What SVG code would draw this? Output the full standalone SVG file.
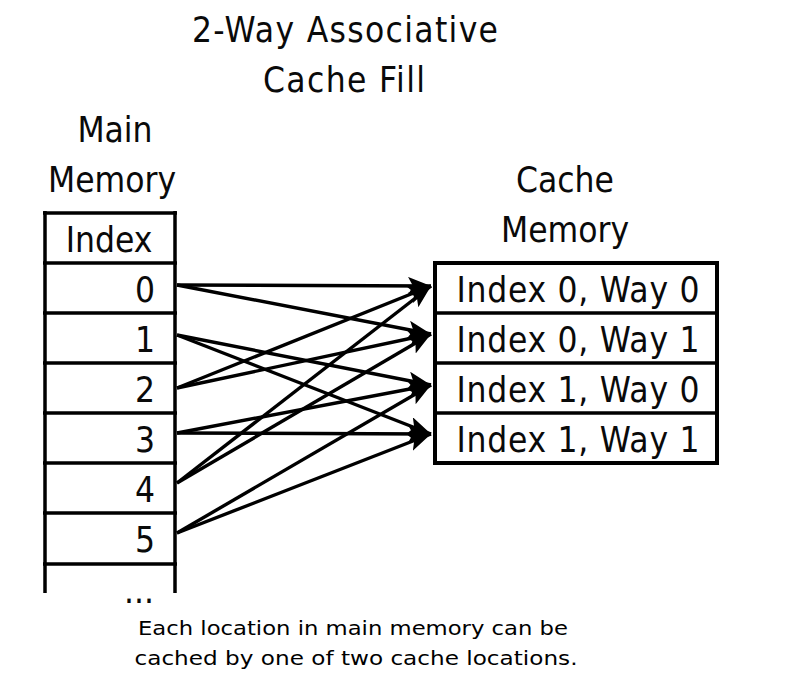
<svg xmlns="http://www.w3.org/2000/svg" width="794" height="690" viewBox="0 0 794 690">
<style>
text{font-family:"DejaVu Sans Condensed","DejaVu Sans",sans-serif;font-stretch:condensed;fill:#0a0a0a;}
.t{font-size:35px;}
.cap{font-family:"DejaVu Sans",sans-serif;font-stretch:normal;font-size:19px;fill:#000;}
.box{fill:none;stroke:#000;stroke-width:4;}
.ln{stroke:#000;stroke-width:3.5;}
.ar{stroke:#000;stroke-width:3.4;fill:none;}
</style>
<defs>
<marker id="ah" markerUnits="userSpaceOnUse" markerWidth="26" markerHeight="20" refX="23" refY="9" orient="auto">
<path d="M0,0 L23,9 L0,18 L5,9 z" fill="#000"/>
</marker>
</defs>
<rect width="794" height="690" fill="#fff"/>
<g id="title">
<text class="t" x="345" y="42" text-anchor="middle" textLength="306" lengthAdjust="spacing">2-Way Associative</text>
<text class="t" x="344" y="92" text-anchor="middle" textLength="162" lengthAdjust="spacing">Cache Fill</text>
</g>
<g id="main-memory">
<text class="t" x="115" y="142" text-anchor="middle">Main</text>
<text class="t" x="112" y="192" text-anchor="middle">Memory</text>
<line class="ln" x1="45" y1="211" x2="45" y2="593"/>
<line class="ln" x1="175" y1="211" x2="175" y2="593"/>
<line class="ln" x1="43" y1="213" x2="177" y2="213"/>
<line class="ln" x1="43" y1="263" x2="177" y2="263"/>
<line class="ln" x1="43" y1="313" x2="177" y2="313"/>
<line class="ln" x1="43" y1="363" x2="177" y2="363"/>
<line class="ln" x1="43" y1="413" x2="177" y2="413"/>
<line class="ln" x1="43" y1="463" x2="177" y2="463"/>
<line class="ln" x1="43" y1="513" x2="177" y2="513"/>
<line class="ln" x1="43" y1="564" x2="177" y2="564"/>
<text class="t" x="109" y="252" text-anchor="middle">Index</text>
<text class="t" x="155" y="302" text-anchor="end">0</text>
<text class="t" x="155" y="352" text-anchor="end">1</text>
<text class="t" x="155" y="402" text-anchor="end">2</text>
<text class="t" x="155" y="452" text-anchor="end">3</text>
<text class="t" x="155" y="502" text-anchor="end">4</text>
<text class="t" x="155" y="552" text-anchor="end">5</text>
<text class="t" x="154" y="603" text-anchor="end" font-size="30">...</text>
</g>
<g id="cache-memory">
<text class="t" x="565" y="192" text-anchor="middle">Cache</text>
<text class="t" x="565" y="242" text-anchor="middle">Memory</text>
<rect class="box" x="435" y="263" width="282" height="200"/>
<line class="ln" x1="435" y1="313" x2="717" y2="313"/>
<line class="ln" x1="435" y1="363" x2="717" y2="363"/>
<line class="ln" x1="435" y1="413" x2="717" y2="413"/>
<text class="t" x="578" y="302" text-anchor="middle" textLength="243" lengthAdjust="spacing">Index 0, Way 0</text>
<text class="t" x="578" y="352" text-anchor="middle" textLength="243" lengthAdjust="spacing">Index 0, Way 1</text>
<text class="t" x="578" y="402" text-anchor="middle" textLength="243" lengthAdjust="spacing">Index 1, Way 0</text>
<text class="t" x="578" y="452" text-anchor="middle" textLength="243" lengthAdjust="spacing">Index 1, Way 1</text>
</g>
<g id="connectors">
<line class="ar" x1="177" y1="285" x2="431" y2="286" marker-end="url(#ah)"/>
<line class="ar" x1="177" y1="285" x2="431" y2="334" marker-end="url(#ah)"/>
<line class="ar" x1="177" y1="335" x2="431" y2="385" marker-end="url(#ah)"/>
<line class="ar" x1="177" y1="335" x2="431" y2="434" marker-end="url(#ah)"/>
<line class="ar" x1="177" y1="388" x2="431" y2="286" marker-end="url(#ah)"/>
<line class="ar" x1="177" y1="388" x2="431" y2="334" marker-end="url(#ah)"/>
<line class="ar" x1="177" y1="433" x2="431" y2="385" marker-end="url(#ah)"/>
<line class="ar" x1="177" y1="433" x2="431" y2="434" marker-end="url(#ah)"/>
<line class="ar" x1="177" y1="483" x2="431" y2="286" marker-end="url(#ah)"/>
<line class="ar" x1="177" y1="483" x2="431" y2="334" marker-end="url(#ah)"/>
<line class="ar" x1="177" y1="533" x2="431" y2="385" marker-end="url(#ah)"/>
<line class="ar" x1="177" y1="533" x2="431" y2="434" marker-end="url(#ah)"/>
</g>
<g id="caption">
<text class="cap" x="353" y="635" text-anchor="middle" textLength="430" lengthAdjust="spacingAndGlyphs">Each location in main memory can be</text>
<text class="cap" x="356" y="665" text-anchor="middle" textLength="443" lengthAdjust="spacingAndGlyphs">cached by one of two cache locations.</text>
</g>
</svg>
